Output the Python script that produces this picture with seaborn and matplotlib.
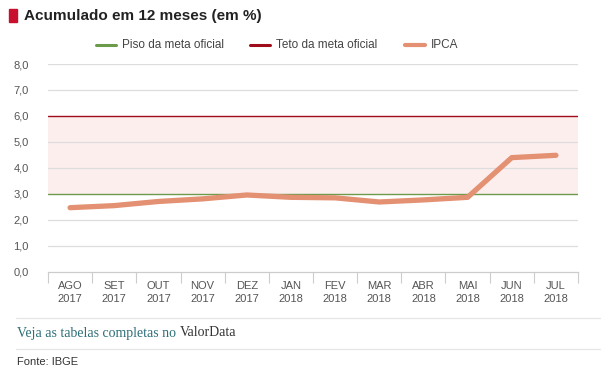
import matplotlib
matplotlib.use("Agg")
import matplotlib.pyplot as plt
import seaborn as sns
import pandas as pd
from matplotlib.lines import Line2D

months = ["AGO", "SET", "OUT", "NOV", "DEZ", "JAN", "FEV", "MAR", "ABR", "MAI", "JUN", "JUL"]
years = ["2017", "2017", "2017", "2017", "2017", "2018", "2018", "2018", "2018", "2018", "2018", "2018"]
ipca = [2.46, 2.54, 2.70, 2.80, 2.95, 2.86, 2.84, 2.68, 2.76, 2.86, 4.39, 4.48]
piso = 3.0
teto = 6.0
yticks = [0, 1, 2, 3, 4, 5, 6, 7, 8]

sns.set_theme(style="white")
plt.rcParams['font.family'] = ['Liberation Sans', 'DejaVu Sans']

labels = [f"{m}\n{y}" for m, y in zip(months, years)]
df = pd.DataFrame({"idx": list(range(len(months))), "IPCA": ipca})

fig = plt.figure(figsize=(6.03, 3.75), dpi=100)
ax = fig.add_axes([48/603, 1-271.5/375, 530/603, 207.5/375])

# band between piso and teto
ax.axhspan(piso, teto, color="#fdeeee", zorder=0, lw=0)
for t in yticks:
    if t not in (0, piso, teto):
        ax.axhline(t, color="#dddddd", lw=0.9, zorder=1)
ax.axhline(piso, color="#6b9b4b", lw=1.0, zorder=2)
ax.axhline(teto, color="#a00d1a", lw=1.0, zorder=2)

sns.lineplot(data=df, x="idx", y="IPCA", ax=ax, color="#e39172", lw=3.8,
             solid_capstyle="round", zorder=3, legend=False)

ax.set_xlim(-0.5, len(months) - 0.5)
ax.set_ylim(0, 8)
ax.set_yticks(yticks)
ax.set_yticklabels([f"{t:.1f}".replace(".", ",") for t in yticks])
ax.set_xticks(range(len(months)))
ax.set_xticklabels(labels)
ax.set_xticks([i - 0.5 for i in range(len(months) + 1)], minor=True)
ax.tick_params(axis="x", which="major", length=0, pad=7, labelsize=8, labelcolor="#555555")
ax.tick_params(axis="x", which="minor", length=8, width=0.8, color="#cccccc", direction="out", bottom=True)
ax.tick_params(axis="y", length=0, pad=14, labelsize=8, labelcolor="#555555")
for lab in ax.get_xticklabels():
    lab.set_linespacing(1.35)
ax.set_xlabel("")
ax.set_ylabel("")
for s in ["top", "right", "left"]:
    ax.spines[s].set_visible(False)
ax.spines["bottom"].set_color("#cccccc")
ax.spines["bottom"].set_linewidth(0.9)

# Title
fig.patches.append(plt.Rectangle((9/603, 1-22/375), 8/603, 13/375, transform=fig.transFigure,
                                 color="#c8102e", figure=fig))
fig.text(24/603, 1-16/375, "Acumulado em 12 meses (em %)", fontsize=11, fontweight="bold",
         color="#222222", va="center", ha="left")

# Legend
leg_items = [("Piso da meta oficial", "#6b9b4b", 96), ("Teto da meta oficial", "#a00d1a", 250),
             ("IPCA", "#e39172", 405)]
for txt, col, x0 in leg_items:
    fig.add_artist(Line2D([x0/603, (x0+20)/603], [1-45/375, 1-45/375], color=col,
                          lw=3 if txt == "IPCA" else 2.2, transform=fig.transFigure))
    fig.text((x0+26)/603, 1-45/375, txt, fontsize=8.5, color="#444444", va="center", ha="left")

# Footer
for yy in (318, 349):
    fig.add_artist(Line2D([16/603, 600/603], [1-yy/375, 1-yy/375], color="#e6e6e6", lw=0.9,
                          transform=fig.transFigure))
t1 = fig.text(17/603, 1-333/375, "Veja as tabelas completas no ", fontsize=10,
              family=["Liberation Serif", "DejaVu Serif"], color="#2e6f78", va="center", ha="left")
fig.canvas.draw()
bb = t1.get_window_extent()
fig.text(bb.x1/603, 1-333/375, "ValorData", fontsize=10,
         family=["Liberation Serif", "DejaVu Serif"], color="#333333", va="center", ha="left")
fig.text(17/603, 1-362/375, "Fonte: IBGE", fontsize=8, color="#333333", va="center", ha="left")

fig.savefig("out.png", dpi=100)
